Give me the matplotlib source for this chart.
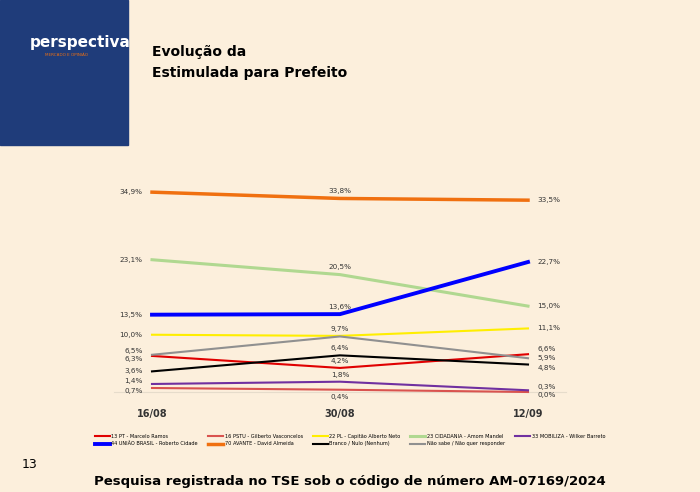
import matplotlib.pyplot as plt
from matplotlib.patches import Rectangle

dates = ["16/08", "30/08", "12/09"]
names = ["13 PT - Marcelo Ramos", "16 PSTU - Gilberto Vasconcelos", "22 PL - Capitão Alberto Neto",
         "23 CIDADANIA - Amom Mandel", "33 MOBILIZA - Wilker Barreto", "44 UNIÃO BRASIL - Roberto Cidade",
         "70 AVANTE - David Almeida", "Branco / Nulo (Nenhum)", "Não sabe / Não quer responder"]
values = [[6.3, 4.2, 6.6], [0.7, 0.4, 0.0], [10.0, 9.8, 11.1], [23.1, 20.5, 15.0], [1.4, 1.8, 0.3],
          [13.5, 13.6, 22.7], [34.9, 33.8, 33.5], [3.6, 6.4, 4.8], [6.5, 9.7, 5.9]]
colors = ["#e00000", "#d9534f", "#ffee00", "#b0d890", "#7030a0", "#0000ff", "#f07010", "#000000", "#909090"]
widths = [1.5, 1.5, 1.5, 2.2, 1.5, 2.8, 2.5, 1.5, 1.5]
showmid = [True, True, False, True, True, True, True, True, True]
# label offsets (left, mid, right) in data units
offs = [(-0.6, 1.2, 0.9), (-0.5, -1.2, -0.6), (0, 0, 0), (0, 1.3, 0), (0.5, 1.2, 0.6),
        (0, 1.3, 0), (0, 1.3, 0), (0, 1.3, -0.6), (0.7, 1.3, 0)]

bg = "#fcefdc"
fig = plt.figure(figsize=(7, 4.92), dpi=100, facecolor=bg)
fig.patches.append(Rectangle((0, 1 - 145/492), 128/700, 145/492, transform=fig.transFigure, color="#1f3c7a", zorder=0))
fig.text(30/700, 1-43/492, "perspectiva", color="white", fontsize=11, fontweight="bold", va="center")
fig.text(45/700, 1-55/492, "MERCADO E OPINIÃO", color="#f07010", fontsize=3, va="center")
fig.text(152/700, 1-52/492, "Evolução da", fontsize=10, fontweight="bold", va="center")
fig.text(152/700, 1-73/492, "Estimulada para Prefeito", fontsize=10, fontweight="bold", va="center")
fig.text(22/700, 1-465/492, "13", fontsize=9, va="center")
fig.text(0.5, 1-482/492, "Pesquisa registrada no TSE sob o código de número AM-07169/2024", fontsize=9.5,
         fontweight="bold", ha="center", va="center")

ax = fig.add_axes([152/700, 100/492, 376/700, 0.419])
ax.set_facecolor("none")
ax.set_xlim(0, 2)
ax.set_ylim(0, 36)
for s in ax.spines.values():
    s.set_visible(False)
ax.axhline(0, color="#e6dccb", lw=0.8, xmin=-0.1, xmax=1.1, clip_on=False)
ax.set_yticks([])
ax.set_xticks(range(3))
ax.set_xticklabels(dates, fontsize=7, fontweight="bold", color="#333333")
ax.tick_params(length=0, pad=12)
fmt = lambda v: f"{v:.1f}%".replace(".", ",")
handles = []
for n, v, c, w, sm, o in zip(names, values, colors, widths, showmid, offs):
    h, = ax.plot(range(3), v, color=c, lw=w, label=n, clip_on=False)
    handles.append(h)
    ax.text(-0.05, v[0] + o[0], fmt(v[0]), ha="right", va="center", fontsize=5.2, color="#333333")
    ax.text(2.05, v[2] + o[2], fmt(v[2]), ha="left", va="center", fontsize=5.2, color="#333333")
    if sm:
        ax.text(1, v[1] + o[1], fmt(v[1]), ha="center", va="center", fontsize=5.2, color="#333333")
order = [0, 5, 1, 6, 2, 7, 3, 8, 4]
fig.legend([handles[i] for i in order], [names[i] for i in order], loc="center",
           bbox_to_anchor=(0.5, 1-440/492), ncol=5, fontsize=3.6, frameon=False,
           handlelength=3, columnspacing=2, handletextpad=0.3)
fig.savefig("out.png", facecolor=bg)
